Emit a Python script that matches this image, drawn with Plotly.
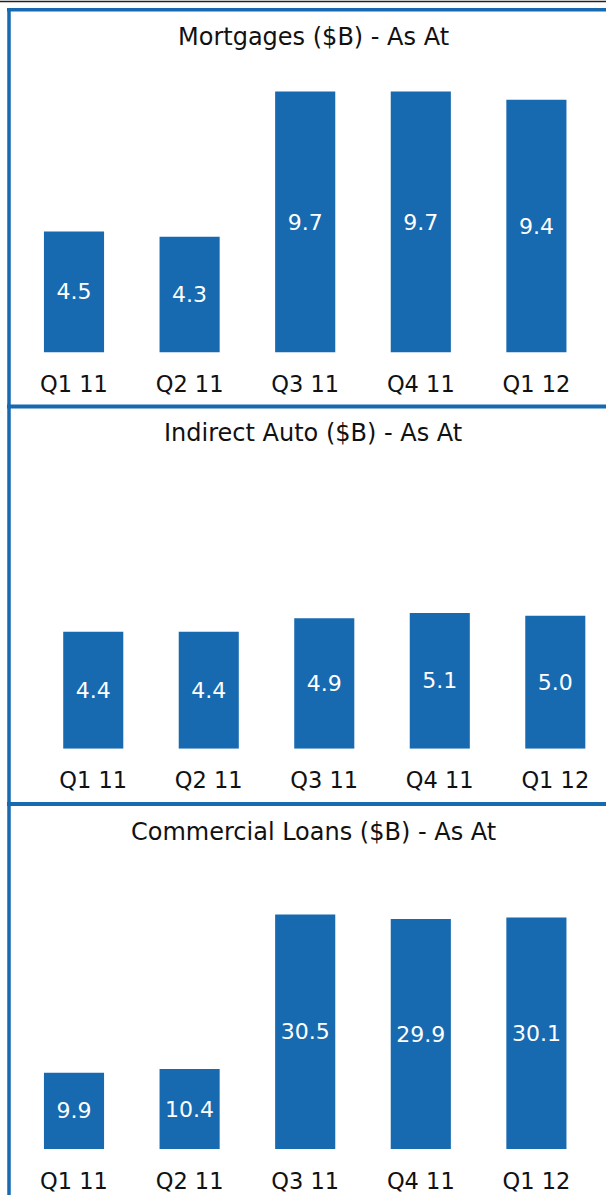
import plotly.graph_objects as go

# ---- data -------------------------------------------------------------
quarters = ["Q1 11", "Q2 11", "Q3 11", "Q4 11", "Q1 12"]
mortgages = [4.5, 4.3, 9.7, 9.7, 9.4]
indirect_auto = [4.4, 4.4, 4.9, 5.1, 5.0]
commercial_loans = [9.9, 10.4, 30.5, 29.9, 30.1]
titles = ["Mortgages ($B) - As At",
          "Indirect Auto ($B) - As At",
          "Commercial Loans ($B) - As At"]

W, H = 606, 1195
BLUE = "#176AB0"
FONT = "DejaVu Sans, Liberation Sans, Arial, sans-serif"


def py(px):
    """pixel row (from top) -> paper y"""
    return 1 - px / H


# per panel: series, x domain (px), x range, y top/bottom (px), px per unit, title row
panels = [
    (mortgages, (16.2, 594.2), [-0.5, 4.5], 60, 352.5, 26.9, 37),
    (indirect_auto, (35.5, 606), [-0.5, 4.439], 460, 748.7, 26.6, 433),
    (commercial_loans, (16.2, 594.2), [-0.5, 4.5], 860, 1149, 7.69, 832),
]

fig = go.Figure()
layout = {}
annotations = []
for i, (vals, xd, xr, top, bot, scale, ty) in enumerate(panels, start=1):
    sfx = "" if i == 1 else str(i)
    fig.add_trace(go.Bar(
        x=quarters, y=vals, xaxis="x" + sfx, yaxis="y" + sfx,
        marker=dict(color=BLUE, line=dict(width=0)),
        text=[f"{v:.1f}" for v in vals], textposition="inside",
        insidetextanchor="middle", constraintext="none",
        textfont=dict(color="white", size=22, family=FONT),
        showlegend=False, hoverinfo="x+y",
    ))
    layout["xaxis" + sfx] = dict(
        domain=[xd[0] / W, xd[1] / W], range=xr, anchor="y" + sfx,
        showgrid=False, zeroline=False, showline=False, ticks="",
        tickfont=dict(size=22.5, color="#111", family=FONT),
        ticklabelstandoff=16, fixedrange=True,
    )
    layout["yaxis" + sfx] = dict(
        domain=[py(bot), py(top)], range=[0, (bot - top) / scale],
        anchor="x" + sfx, visible=False, fixedrange=True,
    )
    annotations.append(dict(
        text=titles[i - 1], x=313 / W, y=py(ty), xref="paper", yref="paper",
        xanchor="center", yanchor="middle", showarrow=False,
        font=dict(size=24, color="#111", family=FONT),
    ))

# frame lines
shapes = [
    dict(type="line", xref="paper", yref="paper", x0=0, x1=1,
         y0=py(1.5), y1=py(1.5), line=dict(color="#222", width=1.5)),
    dict(type="line", xref="paper", yref="paper", x0=7 / W, x1=1,
         y0=py(9.8), y1=py(9.8), line=dict(color=BLUE, width=3.5)),
    dict(type="line", xref="paper", yref="paper", x0=9 / W, x1=9 / W,
         y0=py(8), y1=0, line=dict(color=BLUE, width=3.5)),
    dict(type="line", xref="paper", yref="paper", x0=7 / W, x1=1,
         y0=py(406.5), y1=py(406.5), line=dict(color=BLUE, width=4)),
    dict(type="line", xref="paper", yref="paper", x0=7 / W, x1=1,
         y0=py(804), y1=py(804), line=dict(color=BLUE, width=4)),
]

fig.update_layout(
    width=W, height=H, margin=dict(l=0, r=0, t=0, b=0),
    paper_bgcolor="white", plot_bgcolor="white",
    bargap=0.48, annotations=annotations, shapes=shapes,
    font=dict(family=FONT),
    **layout,
)
# drop the browser's default 8px body margin so the figure sits at (0, 0)
fig.write_html("out.html", config={"displayModeBar": False},
               post_script="document.body.style.margin='0';")
